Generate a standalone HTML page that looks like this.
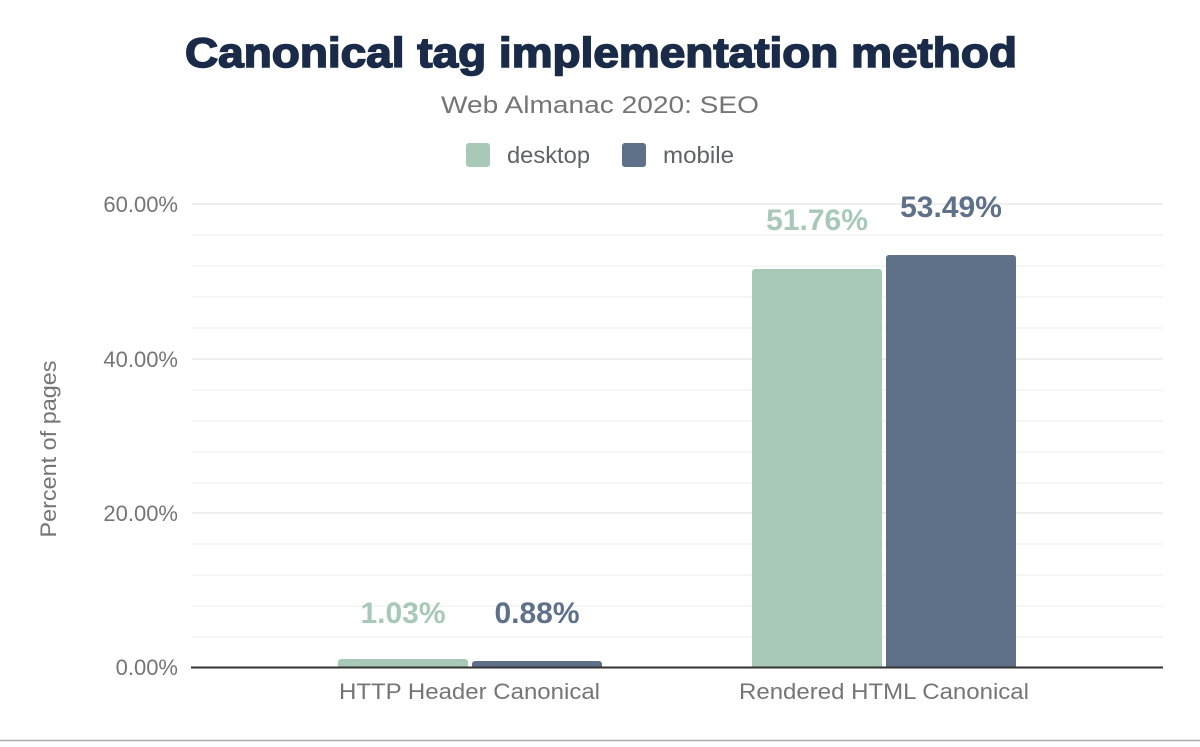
<!DOCTYPE html>
<html><head><style>
body{margin:0;background:#fff;}
svg text{font-family:"Liberation Sans",sans-serif;}
</style></head><body>
<svg width="1200" height="742" xmlns="http://www.w3.org/2000/svg">
<rect width="1200" height="742" fill="#fff"/>
<text x="185" y="67" font-size="42" font-weight="900" fill="#1a2b49" stroke="#1a2b49" stroke-width="1.6" textLength="832" lengthAdjust="spacingAndGlyphs">Canonical tag implementation method</text>
<text x="441" y="113" font-size="24" fill="#757575" textLength="318" lengthAdjust="spacingAndGlyphs">Web Almanac 2020: SEO</text>
<rect x="466" y="143" width="24" height="24" rx="3" fill="#a8c9b8"/>
<text x="507" y="163" font-size="23" fill="#5f6368" textLength="83" lengthAdjust="spacingAndGlyphs">desktop</text>
<rect x="622" y="143" width="24" height="24" rx="3" fill="#5f7089"/>
<text x="663" y="163" font-size="23" fill="#5f6368" textLength="71" lengthAdjust="spacingAndGlyphs">mobile</text>
<g stroke="#ececec" stroke-width="1">
<line x1="192" x2="1163" y1="235" y2="235"/><line x1="192" x2="1163" y1="266" y2="266"/><line x1="192" x2="1163" y1="297" y2="297"/><line x1="192" x2="1163" y1="328" y2="328"/>
<line x1="192" x2="1163" y1="390" y2="390"/><line x1="192" x2="1163" y1="421" y2="421"/><line x1="192" x2="1163" y1="452" y2="452"/><line x1="192" x2="1163" y1="483" y2="483"/>
<line x1="192" x2="1163" y1="544" y2="544"/><line x1="192" x2="1163" y1="575" y2="575"/><line x1="192" x2="1163" y1="606" y2="606"/><line x1="192" x2="1163" y1="637" y2="637"/>
</g>
<g stroke="#dcdcdc" stroke-width="1">
<line x1="192" x2="1163" y1="204" y2="204"/><line x1="192" x2="1163" y1="359" y2="359"/><line x1="192" x2="1163" y1="513" y2="513"/>
</g>
<g font-size="22" fill="#757575" text-anchor="end">
<text x="178" y="212">60.00%</text><text x="178" y="367">40.00%</text><text x="178" y="521">20.00%</text><text x="178" y="675">0.00%</text>
</g>
<text transform="translate(56,449) rotate(-90)" text-anchor="middle" font-size="22" fill="#757575" textLength="177" lengthAdjust="spacingAndGlyphs">Percent of pages</text>
<path d="M338 667V662a3 3 0 0 1 3-3h124a3 3 0 0 1 3 3V667Z" fill="#a8c9b8"/>
<path d="M472 667V664a3 3 0 0 1 3-3h124a3 3 0 0 1 3 3V667Z" fill="#5f7089"/>
<path d="M752 667V272a3 3 0 0 1 3-3h124a3 3 0 0 1 3 3V667Z" fill="#a8c9b8"/>
<path d="M886 667V258a3 3 0 0 1 3-3h124a3 3 0 0 1 3 3V667Z" fill="#5f7089"/>
<line x1="191" x2="1163" y1="667.5" y2="667.5" stroke="#333" stroke-width="2"/>
<g font-size="30" font-weight="bold" text-anchor="middle">
<text x="403" y="623" fill="#a8c9b8">1.03%</text>
<text x="537" y="623" fill="#5f7089">0.88%</text>
<text x="817" y="230" fill="#a8c9b8">51.76%</text>
<text x="951" y="217" fill="#5f7089">53.49%</text>
</g>
<g font-size="22" fill="#757575">
<text x="339" y="699" textLength="261" lengthAdjust="spacingAndGlyphs">HTTP Header Canonical</text>
<text x="739" y="699" textLength="290" lengthAdjust="spacingAndGlyphs">Rendered HTML Canonical</text>
</g>
<line x1="0" x2="1200" y1="740.5" y2="740.5" stroke="#aaa" stroke-width="1.5"/>
</svg>
</body></html>
